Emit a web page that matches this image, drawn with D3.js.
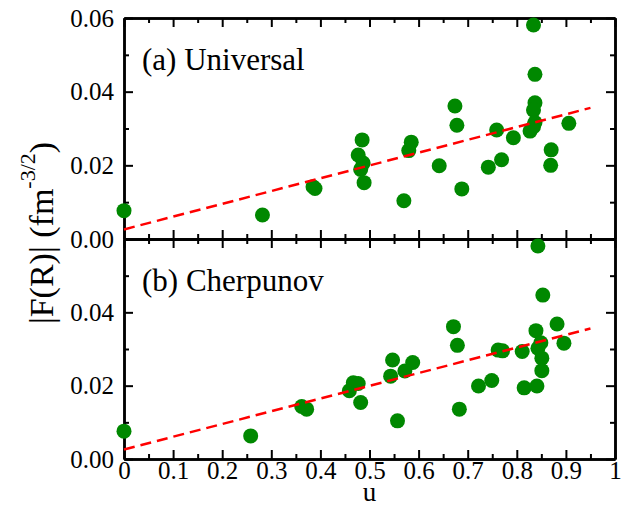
<!DOCTYPE html>
<html>
<head>
<meta charset="utf-8">
<script src="https://cdnjs.cloudflare.com/ajax/libs/d3/7.8.5/d3.min.js"></script>
<style>
    body { margin: 0; background: #fff; }
</style>
</head>
<body>
<div id="chart"></div>
<script>
// values
var panelNames = ["(a) Universal", "(b) Cherpunov"];

var uTop = [0.000, 0.282, 0.385, 0.389, 0.485, 0.477, 0.487, 0.482, 0.489, 0.570,
            0.585, 0.580, 0.642, 0.674, 0.678, 0.688, 0.742, 0.759, 0.769, 0.793,
            0.834, 0.837, 0.837, 0.834, 0.837, 0.834, 0.827, 0.870, 0.869, 0.906];
var fTop = [0.0077, 0.0065, 0.0142, 0.0137, 0.0269, 0.0228, 0.0206, 0.0189, 0.0153, 0.0104,
            0.0263, 0.0240, 0.0199, 0.0361, 0.0309, 0.0136, 0.0195, 0.0296, 0.0215, 0.0275,
            0.0581, 0.0447, 0.0370, 0.0350, 0.0316, 0.0305, 0.0293, 0.0242, 0.0200, 0.0314];

var uBottom = [0.000, 0.258, 0.362, 0.372, 0.459, 0.467, 0.477, 0.482, 0.543, 0.547,
               0.557, 0.572, 0.588, 0.671, 0.679, 0.683, 0.722, 0.749, 0.762, 0.771,
               0.811, 0.815, 0.841, 0.843, 0.853, 0.839, 0.849, 0.843, 0.851, 0.851,
               0.882, 0.896];
var fBottom = [0.0076, 0.0063, 0.0143, 0.0136, 0.0186, 0.0208, 0.0206, 0.0154, 0.0226, 0.0270,
               0.0104, 0.0240, 0.0263, 0.0361, 0.0310, 0.0136, 0.0199, 0.0214, 0.0297, 0.0295,
               0.0293, 0.0194, 0.0199, 0.0581, 0.0447, 0.0350, 0.0317, 0.0302, 0.0275, 0.0241,
               0.0368, 0.0316];

// dashed fit line, same in both panels
var fitU = [0, 0.95];
var fitF = [0.0026, 0.0356];

var xTickValues = [0, 0.1, 0.2, 0.3, 0.4, 0.5, 0.6, 0.7, 0.8, 0.9, 1];
var xTickLabels = ["0", "0.1", "0.2", "0.3", "0.4", "0.5", "0.6", "0.7", "0.8", "0.9", "1"];
var xMinorValues = [0.05, 0.15, 0.25, 0.35, 0.45, 0.55, 0.65, 0.75, 0.85, 0.95];
var yTickValues = [0, 0.02, 0.04, 0.06];
var yMinorValues = [0.01, 0.03, 0.05];
var yTickLabelsTop = ["0.00", "0.02", "0.04", "0.06"];
var yTickLabelsBottom = ["0.00", "0.02", "0.04", ""];

var FONT = "'Liberation Serif', 'Times New Roman', serif";

var options = {
    container: "#chart",
    width: 630,
    height: 506,
    left: 124,
    right: 615,
    top: 18,
    mid: 239,
    bottom: 459,
    green: "#008800",
    red: "#ff0000"
};

var svg = d3.select(options.container).append("svg")
        .attr("width", options.width)
        .attr("height", options.height)
        .style("font-family", FONT);

var x = d3.scaleLinear().domain([0, 1]).range([options.left, options.right]);

var panels = [
    {name: panelNames[0], u: uTop, f: fTop, y0: options.top, y1: options.mid, yLabels: yTickLabelsTop, xLabels: false},
    {name: panelNames[1], u: uBottom, f: fBottom, y0: options.mid, y1: options.bottom, yLabels: yTickLabelsBottom, xLabels: true}
];

panels.forEach(function (p) {
    var y = d3.scaleLinear().domain([0, 0.06]).range([p.y1, p.y0]);
    var g = svg.append("g");

    // ticks on all four sides, pointing inward
    function addAxis(axis, tx, ty, vals, len, labels, pad) {
        var a = g.append("g")
                .attr("transform", "translate(" + tx + "," + ty + ")")
                .call(axis.tickValues(vals)
                        .tickSizeInner(-len)
                        .tickSizeOuter(0)
                        .tickPadding(pad || 0)
                        .tickFormat(function (d, i) { return labels ? labels[i] : ""; }));
        a.selectAll("line").style("stroke", "#000").style("stroke-width", "2px");
        a.select(".domain").style("stroke", "#000").style("stroke-width", "2.5px");
        a.selectAll("text").style("font-size", "25px").style("font-family", FONT).style("fill", "#000");
        return a;
    }
    addAxis(d3.axisBottom(x), 0, p.y1, xTickValues, 9, p.xLabels ? xTickLabels : null, 2);
    addAxis(d3.axisBottom(x), 0, p.y1, xMinorValues, 5);
    addAxis(d3.axisTop(x), 0, p.y0, xTickValues, 9);
    addAxis(d3.axisTop(x), 0, p.y0, xMinorValues, 5);
    addAxis(d3.axisLeft(y), options.left, 0, yTickValues, 9, p.yLabels, 10);
    addAxis(d3.axisLeft(y), options.left, 0, yMinorValues, 5);
    addAxis(d3.axisRight(y), options.right, 0, yTickValues, 9);
    addAxis(d3.axisRight(y), options.right, 0, yMinorValues, 5);

    g.selectAll("circle.pt")
            .data(p.u)
            .enter().append("circle")
            .attr("class", "pt")
            .attr("cx", function (d) { return x(d); })
            .attr("cy", function (d, i) { return y(p.f[i]); })
            .attr("r", 7.5)
            .style("fill", options.green);

    var line = d3.line()
            .x(function (d) { return x(d); })
            .y(function (d, i) { return y(fitF[i]); });

    g.append("path")
            .datum(fitU)
            .attr("d", line)
            .style("fill", "none")
            .style("stroke", options.red)
            .style("stroke-width", "2.5px")
            .style("stroke-dasharray", "11,6");

    g.append("text")
            .attr("x", 142)
            .attr("y", p.y0 + 52)
            .style("font-family", FONT)
            .style("font-size", "31px")
            .text(p.name);
});

// axis titles
svg.append("text")
        .attr("x", (options.left + options.right) / 2)
        .attr("y", 501)
        .attr("text-anchor", "middle")
        .style("font-family", FONT)
        .style("font-size", "27px")
        .text("u");

var yTitle = svg.append("text")
        .attr("transform", "translate(53,233) rotate(-90)")
        .attr("text-anchor", "middle")
        .style("font-family", FONT)
        .style("font-size", "34px");
yTitle.append("tspan").text("|F(R)| (fm");
yTitle.append("tspan").attr("dy", -18).style("font-size", "22px").text("-3/2");
yTitle.append("tspan").attr("dy", 18).text(")");
</script>
</body>
</html>
